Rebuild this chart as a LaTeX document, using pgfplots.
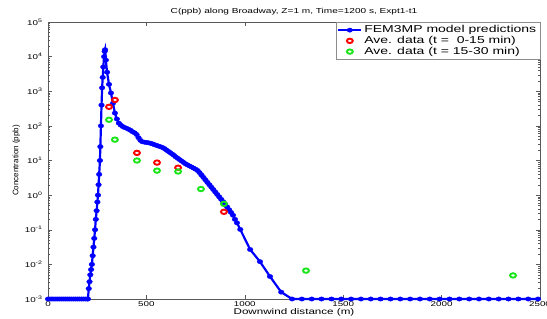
\documentclass[border=0pt]{standalone}
\usepackage{pgfplots}
\pgfplotsset{compat=1.18}
\usepackage{fontspec}
\setmainfont{Liberation Sans}[FakeStretch=1.4]
\newfontfamily\ylabfont{Liberation Sans}
\definecolor{mblue}{rgb}{0,0,1}
\definecolor{mred}{rgb}{1,0,0}
\definecolor{mgreen}{rgb}{0.1,0.9,0.1}
\begin{document}
\begin{tikzpicture}
\begin{axis}[
  scale only axis,
  width=492pt, height=277pt,
  xmin=0, xmax=2500,
  ymode=log, ymin=1e-3, ymax=1e5,
  clip=false,
  axis line style={black!65, line width=0.5pt},
  every tick/.style={black!65, line width=0.4pt},
  major tick length=4pt, minor tick length=2pt,
  tick pos=both,
  xtick={0,500,1000,1500,2000,2500},
  xticklabels={0,500,1000,1500,2000,2500},
  ytick={1e-3,1e-2,1e-1,1,1e1,1e2,1e3,1e4,1e5},
  yticklabels={10\textsuperscript{-3},10\textsuperscript{-2},10\textsuperscript{-1},10\textsuperscript{0},10\textsuperscript{1},10\textsuperscript{2},10\textsuperscript{3},10\textsuperscript{4},10\textsuperscript{5}},
  minor ytick={2e-3,3e-3,4e-3,5e-3,6e-3,7e-3,8e-3,9e-3,
    2e-2,3e-2,4e-2,5e-2,6e-2,7e-2,8e-2,9e-2,
    0.2,0.3,0.4,0.5,0.6,0.7,0.8,0.9,
    2,3,4,5,6,7,8,9,
    20,30,40,50,60,70,80,90,
    200,300,400,500,600,700,800,900,
    2000,3000,4000,5000,6000,7000,8000,9000,
    20000,30000,40000,50000,60000,70000,80000,90000},
  tick label style={font=\fontsize{7}{7.5}\selectfont},
  /pgf/number format/assume math mode=true,
  xticklabel style={yshift=1pt},
  yticklabel style={xshift=-2pt},
  title={C(ppb) along Broadway, Z=1 m, Time=1200 s, Expt1-t1},
  title style={font=\fontsize{7.2}{8}\selectfont, yshift=-3pt},
  xlabel={Downwind distance (m)},
  xlabel style={font=\fontsize{8.3}{9}\selectfont, yshift=5pt},
  ylabel={Concentration (ppb)},
  ylabel style={font=\ylabfont\fontsize{8}{9}\selectfont, yshift=-2pt},
  legend style={at={(1,1)}, anchor=north east, draw=black!45, line width=0.5pt,
    font=\fontsize{10}{11}\selectfont, inner sep=1.5pt, row sep=-2pt,
    cells={anchor=west}},
  legend image code/.code={\draw[mark repeat=2,mark phase=2,#1] plot coordinates {(0cm,0cm) (0.4cm,0cm) (0.8cm,0cm)};},
]
\addplot[mblue, line width=2.2pt, mark=*, mark size=2.2pt, mark options={xscale=1.3, line width=0.3pt}] coordinates {
(0,0.001) (10,0.001) (20,0.001) (30,0.001) (40,0.001) (50,0.001) (60,0.001) (70,0.001) (80,0.001) (90,0.001)
(100,0.001) (110,0.001) (120,0.001) (130,0.001) (140,0.001) (150,0.001) (160,0.001) (170,0.001) (180,0.001) (190,0.001)
(200,0.001) (203,0.001) (207,0.002) (211,0.00316) (215,0.005) (219,0.00708) (223,0.01) (227,0.0178) (231,0.0316)
(235,0.0562) (239,0.1) (243,0.2) (247,0.355) (251,0.631) (254,1) (257,2.0) (260,3.98) (264,10) (266,25.1) (269,100)
(272,398) (275,1259) (278,2512) (281,5012) (285,10000) (288,14125) (290,15849) (294,7943) (300,3548)
(310,1585) (320,891) (330,447) (340,234) (350,158) (360,120) (370,105) (380,95.5) (390,89.1) (400,85.1)
(410,79.4) (420,74.1) (430,67.6) (440,63.1) (450,56.2) (460,45.7) (470,38.0) (480,34.7) (490,33.9) (500,33.1)
(510,32.4) (520,31.6) (530,30.2) (540,28.8) (550,27.5) (560,26.3) (570,25.1) (580,24.0) (590,22.4) (600,20.4)
(610,18.6) (620,17.0) (630,15.5) (640,14.1) (650,12.6) (660,11.5) (670,10.5) (680,9.55) (690,8.71) (700,7.94)
(710,7.41) (720,6.92) (730,6.46) (740,6.03) (750,5.62) (760,5.13) (770,4.47) (780,3.80) (790,3.24) (800,2.75)
(810,2.34) (820,2.00) (830,1.70) (840,1.45) (850,1.23) (860,1.05) (870,0.891) (880,0.759) (890,0.646) (900,0.550)
(910,0.457) (920,0.380) (930,0.316) (940,0.263) (950,0.200) (960,0.158) (977,0.102) (1027,0.0269) (1077,0.0120)
(1128,0.00447) (1185,0.00158) (1240,0.001) (1290,0.001) (1340,0.001) (1390,0.001) (1440,0.001) (1490,0.001)
(1540,0.001) (1590,0.001) (1640,0.001) (1690,0.001) (1740,0.001) (1790,0.001) (1840,0.001) (1890,0.001)
(1940,0.001) (1990,0.001) (2040,0.001) (2090,0.001) (2140,0.001) (2190,0.001) (2240,0.001) (2290,0.001)
(2340,0.001) (2390,0.001) (2440,0.001) (2490,0.001)
};
\addlegendentry{FEM3MP model predictions}
\addplot[only marks, mred, mark=o, mark size=2.2pt, mark options={xscale=1.35, line width=1.9pt}] coordinates {
(310,355) (340,560) (452,16.6) (554,8.7) (661,6.2) (894,0.33)
};
\addlegendentry{Ave. data (t =\ \ 0-15 min)}
\addplot[only marks, mgreen, mark=o, mark size=2.2pt, mark options={xscale=1.35, line width=1.9pt}] coordinates {
(310,150) (340,40) (452,10) (554,5.1) (661,4.8) (777,1.5) (894,0.56) (1311,0.0066) (2363,0.0048)
};
\addlegendentry{Ave. data (t = 15-30 min)}
\end{axis}
\pgfresetboundingbox
\path[use as bounding box] ([xshift=-48pt,yshift=-19pt]current axis.south west) rectangle ([xshift=7pt,yshift=22pt]current axis.north east);
\end{tikzpicture}
\end{document}
